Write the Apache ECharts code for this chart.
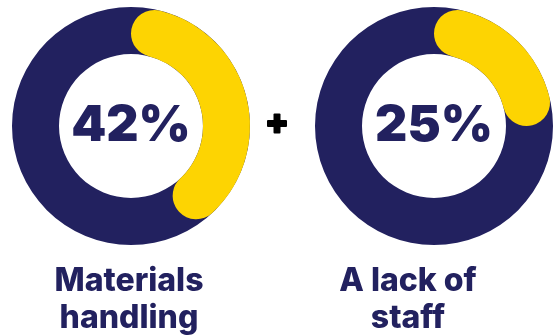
<!DOCTYPE html>
<html>
<head>
<meta charset="utf-8">
<script src="https://cdn.jsdelivr.net/npm/echarts@6/dist/echarts.min.js"></script>
<style>
  html, body { margin: 0; padding: 0; background: #ffffff; }
  #chart { width: 557px; height: 335px; }
</style>
</head>
<body>
<div id="chart"></div>
<script>
// Share of respondents naming each issue (percent)
const categories = ['Materials\nhandling', 'A lack of\nstaff'];
const shares = [42, 25];

const NAVY = '#22215F';
const YELLOW = '#FDD402';
const FONT = 'Inter, "Noto Sans", sans-serif';

const centers = [[131, 126], [434, 126]];
const labelX = [129, 408];
const ring = [72, 119];

const series = [];
shares.forEach(function (v, i) {
  // full navy ring underneath
  series.push({
    type: 'pie',
    silent: true,
    center: centers[i],
    radius: ring,
    startAngle: 90,
    label: { show: false },
    labelLine: { show: false },
    emphasis: { disabled: true },
    itemStyle: { color: NAVY, borderWidth: 0 },
    data: [{ value: 100 }]
  });
  // yellow share with rounded ends, value shown in the middle
  series.push({
    type: 'pie',
    silent: true,
    center: centers[i],
    radius: ring,
    startAngle: 90,
    clockwise: true,
    avoidLabelOverlap: false,
    emphasis: { disabled: true },
    labelLine: { show: false },
    itemStyle: { borderRadius: 24, borderWidth: 0 },
    data: [
      {
        value: v,
        itemStyle: { color: YELLOW },
        label: {
          show: true,
          position: 'center',
          formatter: '{c}%',
          color: NAVY,
          fontFamily: FONT,
          fontWeight: 900,
          fontSize: 50
        }
      },
      {
        value: 100 - v,
        itemStyle: { color: 'transparent' },
        label: { show: false }
      }
    ]
  });
});

const graphics = categories.map(function (c, i) {
  return {
    type: 'text',
    x: labelX[i],
    y: 300,
    silent: true,
    style: {
      text: c,
      fill: NAVY,
      font: '800 32px ' + FONT,
      lineHeight: 37,
      align: 'center',
      verticalAlign: 'middle'
    }
  };
});

// plus sign between the two rings
graphics.push(
  { type: 'rect', silent: true, shape: { x: 267, y: 120, width: 20, height: 7, r: 1 }, style: { fill: '#000000' } },
  { type: 'rect', silent: true, shape: { x: 273.5, y: 113.5, width: 7, height: 20, r: 1 }, style: { fill: '#000000' } }
);

const chart = echarts.init(document.getElementById('chart'), null, { renderer: 'canvas' });
chart.setOption({
  animation: false,
  backgroundColor: '#ffffff',
  series: series,
  graphic: graphics
});
</script>
</body>
</html>
